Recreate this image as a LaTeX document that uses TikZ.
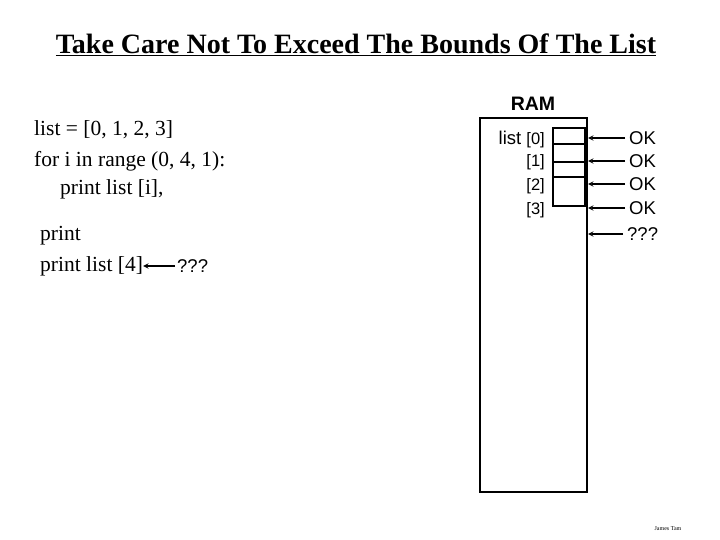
\documentclass[tikz,border=0pt]{standalone}
\usepackage{fontspec}
\setmainfont{Liberation Serif}
\newfontfamily\arial{Liberation Sans}
\begin{document}
\begin{tikzpicture}[x=1pt,y=-1pt,
  code/.style={anchor=west,inner sep=0pt,font=\fontsize{21.5}{24}\selectfont},
  ok/.style={anchor=west,inner sep=0pt,font=\arial\fontsize{18.5}{20}\selectfont},
  idx/.style={anchor=east,inner sep=0pt,font=\arial\fontsize{16.5}{18}\selectfont},
  arr/.style={-stealth,line width=1.4pt}]
\useasboundingbox[fill=white] (0,0) rectangle (720,540);
\node[inner sep=0pt,font=\bfseries\fontsize{28}{30}\selectfont] (title) at (356,45) {\underline{Take Care Not To Exceed The Bounds Of The List}};
\node[code] (l1) at (34,130) {list = [0, 1, 2, 3]};
\node[code] (l2) at (34,161) {for i in range (0, 4, 1):};
\node[code] (l3) at (60,189) {print list [i],};
\node[code] (l4) at (40,236) {print};
\node[code] (l5) at (40,266) {print list [4]};
\node[ok] (q0) at (177,266) {???};
\draw[arr] (q0.west) ++(-2,0) -- (l5.east);
\node[inner sep=0pt,font=\arial\bfseries\fontsize{19.5}{20}\selectfont] (ram) at (533,104) {RAM};
\draw[line width=1.3pt] (480,118) rectangle (587,492);
\draw[line width=2.2pt] (553,128) rectangle (585,206);
\draw[line width=1.3pt] (553,144) -- (585,144) (553,162) -- (585,162) (553,177) -- (585,177);
\node[idx] (i0) at (545,140) {\fontsize{18.5}{20}\selectfont list~\fontsize{16.5}{18}\selectfont[0]};
\node[idx] (i1) at (545,162) {[1]};
\node[idx] (i2) at (545,186) {[2]};
\node[idx] (i3) at (545,210) {[3]};
\coordinate (a0) at (588,138);
\coordinate (a1) at (588,161);
\coordinate (a2) at (588,184);
\coordinate (a3) at (588,208);
\coordinate (a4) at (588,234);
\node[ok] (o0) at (629,138) {OK};
\node[ok] (o1) at (629,161) {OK};
\node[ok] (o2) at (629,184) {OK};
\node[ok] (o3) at (629,208) {OK};
\node[ok] (o4) at (627,234) {???};
\foreach \i in {0,...,4}{\draw[arr] (o\i.west) ++(-4,0) -- (a\i);}
\node[inner sep=0pt,font=\fontsize{6}{7}\selectfont] (jt) at (668,529) {James Tam};
\end{tikzpicture}
\end{document}
